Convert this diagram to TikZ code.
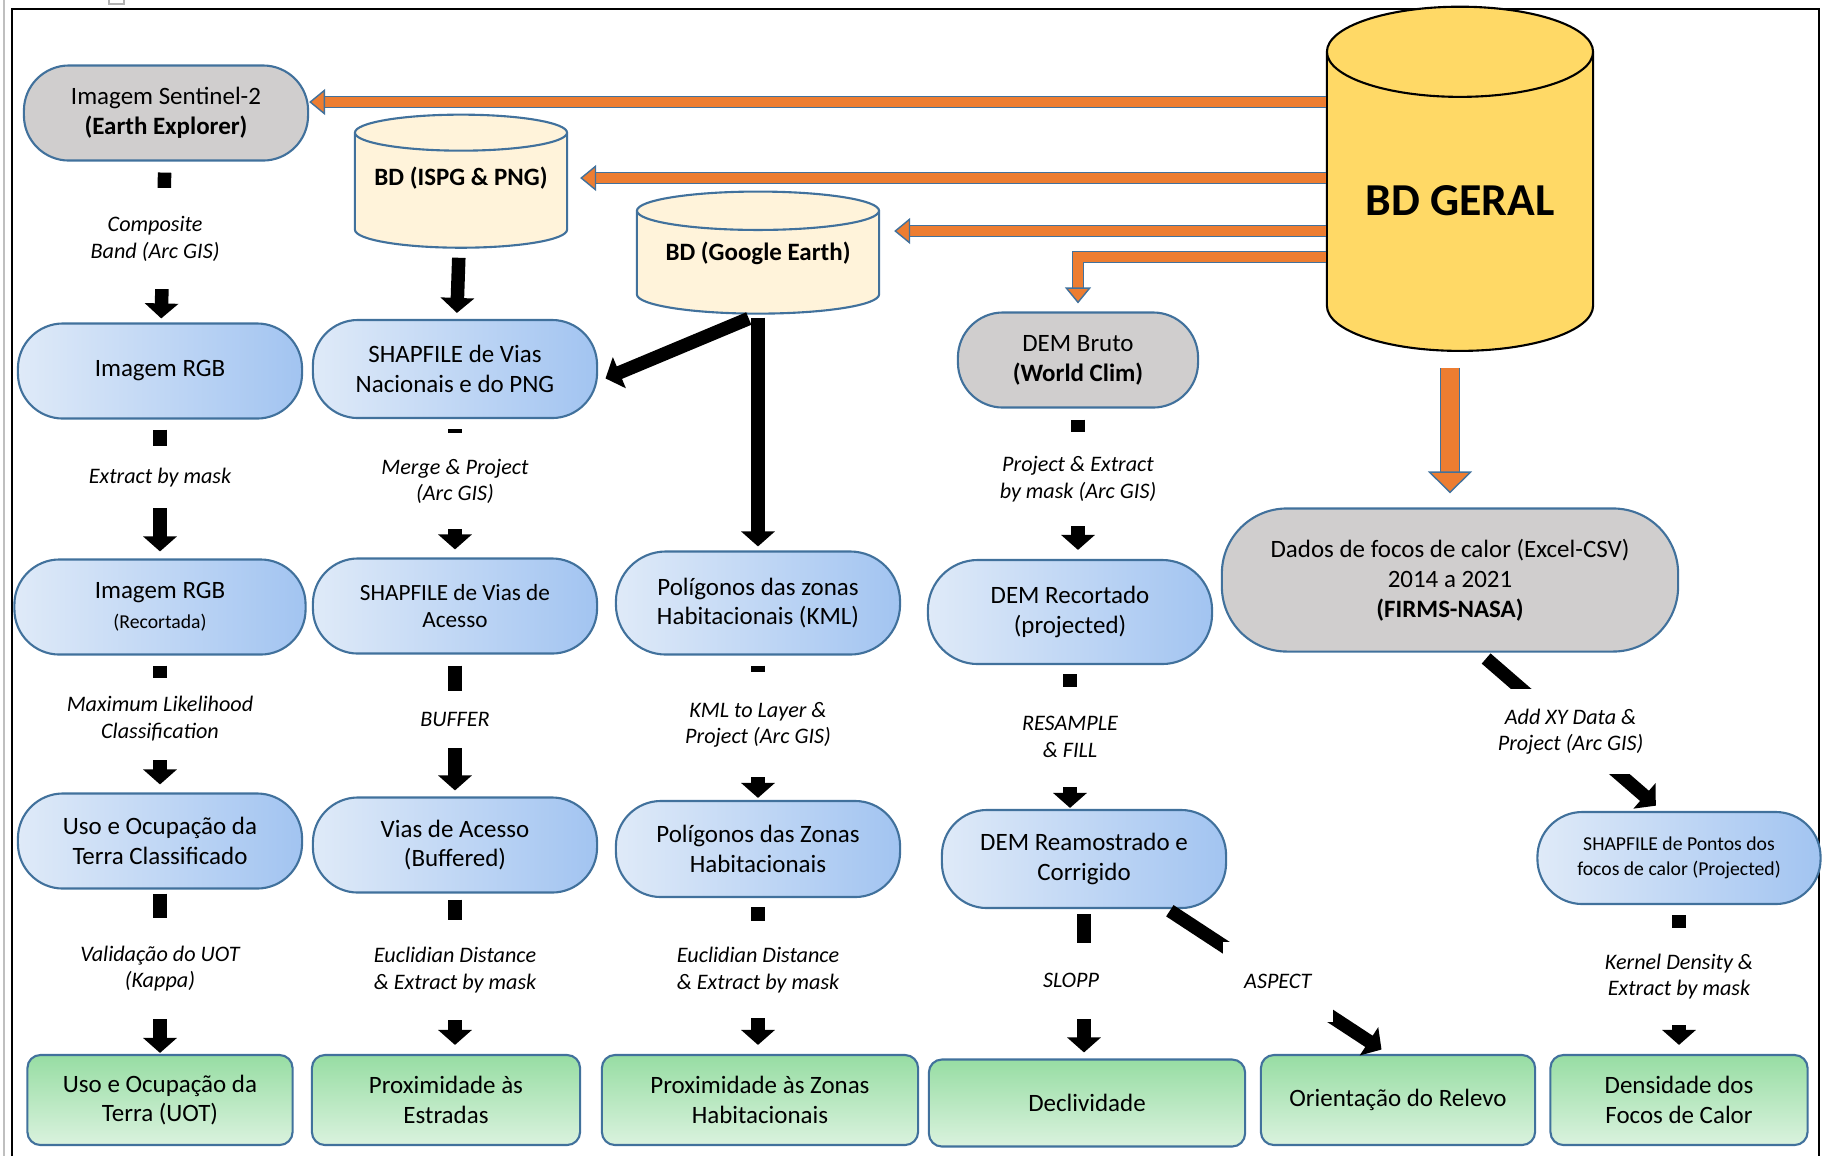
\documentclass[tikz,border=0pt]{standalone}
\usepackage{fontspec}
\setmainfont{Carlito}
\usetikzlibrary{arrows.meta, positioning, shapes.geometric, calc}

\definecolor{edgeblue}{HTML}{41719C}
\definecolor{pillL}{HTML}{DFEAF8}
\definecolor{pillR}{HTML}{A2C4F1}
\definecolor{grayfill}{HTML}{D0CECE}
\definecolor{greenT}{HTML}{97DDA3}
\definecolor{greenB}{HTML}{DAF2DE}
\definecolor{cream}{HTML}{FFF3DA}
\definecolor{gold}{HTML}{FFD966}
\definecolor{orangeA}{HTML}{ED7D31}

\newcommand{\nodetxt}{\fontsize{7.1pt}{8.5pt}\selectfont}
\newcommand{\smalltxt}{\fontsize{5.6pt}{7pt}\selectfont}
\newcommand{\steptxt}{\fontsize{6.3pt}{7.6pt}\selectfont\itshape}

\begin{document}
\begin{tikzpicture}[
    x=0.01cm, y=-0.01cm,
    every node/.style={align=center, font=\nodetxt, inner sep=1pt},
    capsule/.style={draw=edgeblue, line width=0.6pt, rounded corners=0.45cm, minimum width=2.84cm, minimum height=0.95cm},
    proc/.style={capsule, left color=pillL, right color=pillR},
    src/.style={capsule, fill=grayfill},
    result/.style={draw=edgeblue, line width=0.6pt, rounded corners=0.13cm, top color=greenT, bottom color=greenB, minimum height=0.9cm},
    db/.style={cylinder, shape border rotate=90, shape aspect=0.2, draw=edgeblue, line width=0.6pt, fill=cream, font=\nodetxt\bfseries},
    flow/.style={line width=0.135cm, -{Triangle[width=0.33cm, length=0.15cm]}},
    steplbl/.style={fill=white, font=\steptxt, minimum height=0.97cm, inner sep=1pt},
    feed/.style={draw=orangeA, line width=0.095cm, -{Triangle[width=0.26cm, length=0.16cm, fill=orangeA, color=edgeblue, line width=0.4pt]}, preaction={draw=edgeblue, line width=0.115cm, arrows=-, shorten >=0.14cm}},
    feedbig/.style={draw=orangeA, line width=0.18cm, -{Triangle[width=0.44cm, length=0.22cm, fill=orangeA, color=edgeblue, line width=0.4pt]}, preaction={draw=edgeblue, line width=0.2cm, arrows=-, shorten >=0.2cm}}
]
\useasboundingbox (0,0) rectangle (1826,1156);

% Frame
\draw[gray!50, line width=0.6pt] (4,0) -- (4,1156);
\draw[line width=0.7pt] (12,1156) -- (12,9) -- (1819,9) -- (1819,1156);
\draw[gray!60, line width=0.5pt] (109,0) -- (109,4) -- (124,4) -- (124,0);

% Data bases
\node (bdgeral) [db, draw=black, fill=gold, shape aspect=0.46, minimum width=2.66cm, minimum height=3.44cm, font=\fontsize{13pt}{15pt}\selectfont\bfseries] at (1460,207) {\raisebox{0.14cm}{BD GERAL}};
\node (ispg) [db, minimum width=2.12cm, minimum height=1.33cm] at (461,193) {\raisebox{0.34cm}{BD (ISPG \& PNG)}};
\node (google) [db, minimum width=2.42cm, minimum height=1.22cm] at (758,265) {\raisebox{0.28cm}{BD (Google Earth)}};

% Sources
\node (sentinel) [src] at (166,113) {Imagem Sentinel-2\\\textbf{(Earth Explorer)}};
\node (bruto) [src, minimum width=2.4cm] at (1078,360) {DEM Bruto\\\textbf{(World Clim)}};
\node (dados) [src, minimum width=4.56cm, minimum height=1.43cm, rounded corners=0.65cm] at (1450,580) {Dados de focos de calor (Excel-CSV)\\2014 a 2021\\\textbf{(FIRMS-NASA)}};

% Processing steps
\node (rgb) [proc] at (160,371) {Imagem RGB};
\node (shapnac) [proc, minimum height=0.98cm] at (455,369) {SHAPFILE de Vias\\Nacionais e do PNG};
\node (recortada) [proc, minimum width=2.91cm] at (160,607) {Imagem RGB\\{\smalltxt (Recortada)}};
\node (viasac) [proc, font=\fontsize{6.6pt}{7.8pt}\selectfont] at (455,606) {SHAPFILE de Vias de\\Acesso};
\node (kml) [proc, minimum height=1.03cm, rounded corners=0.5cm] at (758,603) {Polígonos das zonas\\Habitacionais (KML)};
\node (recortado) [proc, minimum height=1.04cm, rounded corners=0.5cm] at (1070,612) {DEM Recortado\\(projected)};
\node (usoclass) [proc] at (160,841) {Uso e Ocupação da\\Terra Classificado};
\node (buffered) [proc] at (455,845) {Vias de Acesso\\(Buffered)};
\node (poligonos) [proc, minimum height=0.96cm] at (758,849) {Polígonos das Zonas\\Habitacionais};
\node (reamostrado) [proc, minimum height=0.98cm] at (1084,859) {DEM Reamostrado e\\Corrigido};
\node (pontos) [proc, minimum width=2.83cm, minimum height=0.92cm, font=\smalltxt] at (1679,858) {SHAPFILE de Pontos dos\\focos de calor (Projected)};

% Results
\node (uot) [result, minimum width=2.65cm] at (160,1100) {Uso e Ocupação da\\Terra (UOT)};
\node (estradas) [result, minimum width=2.68cm] at (446,1100) {Proximidade às\\Estradas};
\node (proxzonas) [result, minimum width=3.16cm] at (760,1100) {Proximidade às Zonas\\Habitacionais};
\node (declividade) [result, minimum width=3.16cm, minimum height=0.87cm] at (1087,1103) {Declividade};
\node (orientacao) [result, minimum width=2.74cm] at (1398,1100) {Orientação do Relevo};
\node (densidade) [result, minimum width=2.57cm] at (1679,1100) {Densidade dos\\Focos de Calor};

% Feeds from BD GERAL
\coordinate (tosent) at ($(sentinel.east)+(0,-11)$);
\coordinate (toispg) at ($(ispg.east)+(12,-15)$);
\coordinate (togoogle) at ($(google.east)+(14,-34)$);
\coordinate (tobruto) at ($(bruto.north)+(0,-8)$);
\coordinate (fromgeral) at ($(dados.north |- bdgeral.south)+(0,16)$);
\coordinate (todados) at ($(dados.north)+(0,-14)$);
\draw[feed] (bdgeral.west |- tosent) -- (tosent);
\draw[feed] (bdgeral.west |- toispg) -- (toispg);
\draw[feed] (bdgeral.west |- togoogle) -- (togoogle);
\draw[feed] ($(bdgeral.west)+(0,50)$) -| (tobruto);
\draw[feedbig] (fromgeral) -- (todados);

% Column 1
\draw[flow, shorten <=0.11cm, shorten >=0.04cm] (sentinel) -- node[steplbl, pos=0.48, minimum height=1.01cm, xshift=-0.08cm] {Composite\\Band (Arc GIS)} (rgb);
\draw[flow, shorten <=0.1cm, shorten >=0.07cm] (rgb) -- node[steplbl, pos=0.415, minimum height=0.62cm] {Extract by mask} (recortada);
\draw[flow, shorten <=0.1cm, shorten >=0.08cm] (recortada) -- node[steplbl, pos=0.46, minimum height=0.82cm] {Maximum Likelihood\\Classification} (usoclass);
\draw[flow, shorten <=0.04cm, shorten >=0.01cm] (usoclass) -- node[steplbl, pos=0.48, minimum height=1.01cm] {Validação do UOT\\(Kappa)} (uot);

% Column 2
\draw[flow, shorten <=0.09cm, shorten >=0.06cm] (ispg) -- (shapnac);
\draw[flow, shorten <=0.1cm, shorten >=0.08cm] (shapnac) -- node[steplbl, pos=0.45, minimum height=0.96cm] {Merge \& Project\\(Arc GIS)} (viasac);
\draw[flow, shorten <=0.11cm, shorten >=0.06cm] (viasac) -- node[steplbl, pos=0.46, minimum height=0.57cm] {BUFFER} (buffered);
\draw[flow, shorten <=0.06cm, shorten >=0.09cm] (buffered) -- node[steplbl, pos=0.475, minimum height=1cm] {Euclidian Distance\\\& Extract by mask} (buffered |- estradas.north);

% Column 3
\draw[flow, shorten <=0.1cm, shorten >=0.08cm] (google.south) -- (shapnac.-5);
\draw[flow, shorten <=0.03cm, shorten >=0.04cm] (google.south) -- (kml);
\draw[flow, shorten <=0.1cm, shorten >=0.02cm] (kml) -- node[steplbl, pos=0.48, minimum height=1.05cm] {KML to Layer \&\\Project (Arc GIS)} (poligonos);
\draw[flow, shorten <=0.09cm, shorten >=0.09cm] (poligonos) -- node[steplbl, pos=0.46] {Euclidian Distance\\\& Extract by mask} (poligonos |- proxzonas.north);

% Column 4
\draw[flow, shorten <=0.11cm, shorten >=0.09cm] (bruto) -- node[steplbl, pos=0.47, minimum height=0.94cm] {Project \& Extract\\by mask (Arc GIS)} (bruto |- recortado.north);
\draw[flow, shorten <=0.09cm, shorten >=0.01cm] (recortado.south) -- node[steplbl, pos=0.5, minimum height=1cm] {RESAMPLE\\\& FILL} (recortado.south |- reamostrado.north);
\draw[flow, shorten <=0.05cm, shorten >=0.06cm] (reamostrado) -- node[steplbl, pos=0.48, minimum height=0.76cm, xshift=-0.13cm] {SLOPP} (reamostrado |- declividade.north);
\draw[flow, shorten <=0.03cm, shorten >=0.08cm] (reamostrado.-31) -- node[steplbl, minimum height=0.8cm, minimum width=1.1cm] {ASPECT} (orientacao.102);

% Column 5
\draw[flow, shorten <=0.09cm, shorten >=0.08cm] (dados.-68) -- node[steplbl, minimum height=0.85cm] {Add XY Data \&\\Project (Arc GIS)} (pontos.110);
\draw[flow, shorten <=0.1cm, shorten >=0.09cm] (pontos) -- node[steplbl, pos=0.48] {Kernel Density \&\\Extract by mask} (densidade);

\end{tikzpicture}
\end{document}
